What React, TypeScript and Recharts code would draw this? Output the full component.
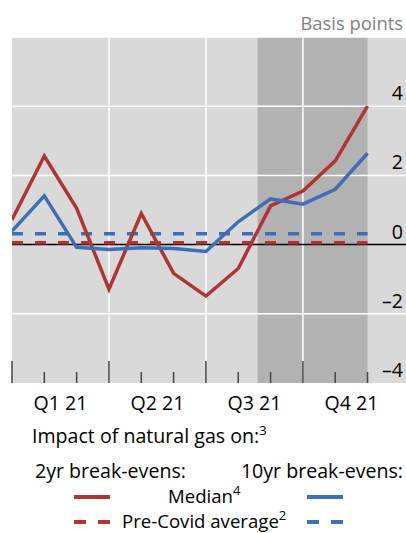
import React from 'react';
import { LineChart, Line, XAxis, YAxis, ReferenceArea, ReferenceLine } from 'recharts';

// Months of 2021 (x index 0..11)
const months = ['Jan 21', 'Feb 21', 'Mar 21', 'Apr 21', 'May 21', 'Jun 21', 'Jul 21', 'Aug 21', 'Sep 21', 'Oct 21', 'Nov 21', 'Dec 21'];
// Impact of natural gas, basis points
const median2yr = [0.72, 2.56, 1.05, -1.29, 0.9, -0.83, -1.49, -0.69, 1.12, 1.55, 2.42, 4.0];
const median10yr = [0.39, 1.41, -0.08, -0.14, -0.09, -0.11, -0.2, 0.66, 1.32, 1.17, 1.6, 2.64];
const preCovid2yr = [0.05, 0.05, 0.05, 0.05, 0.05, 0.05, 0.05, 0.05, 0.05, 0.05, 0.05, 0.05];
const preCovid10yr = [0.31, 0.31, 0.31, 0.31, 0.31, 0.31, 0.31, 0.31, 0.31, 0.31, 0.31, 0.31];
const quarterLabels = ['Q1 21', 'Q2 21', 'Q3 21', 'Q4 21'];
const quarterMid = [1.5, 4.5, 7.5, 10.5];
const yTicks = [-4, -2, 0, 2, 4];
const yGrid = [-2, 2, 4, 6];
const xGrid = [3, 6, 9];
const shaded = [7.6, 11.0];
const xDomain = [0, 12.19];
const yDomain = [-4, 6];

const data = months.map((m, i) => ({
  x: i,
  month: m,
  median2yr: median2yr[i],
  median10yr: median10yr[i],
  preCovid2yr: preCovid2yr[i],
  preCovid10yr: preCovid10yr[i],
}));

const RED = '#b03434';
const BLUE = '#3e6fb5';
const FONT = '"Open Sans", "Noto Sans", sans-serif';
const FS = 19.6;
const FS_LEG = 18.6;
const SUP = 13;

const XTick = (props: any) => {
  const { x, y, payload } = props;
  const v = payload.value as number;
  if (Number.isInteger(v)) {
    const len = v % 3 === 0 ? 22 : 11;
    return <line x1={x} x2={x} y1={y} y2={y - len} stroke="#444" strokeWidth={1.5} />;
  }
  const qi = quarterMid.indexOf(v);
  return (
    <text x={x} y={y + 27} textAnchor="middle" fontFamily={FONT} fontSize={FS} fill="#000">
      {quarterLabels[qi]}
    </text>
  );
};

const YTick = (props: any) => {
  const { x, y, payload } = props;
  const v = payload.value as number;
  const label = v < 0 ? '\u2013' + Math.abs(v) : String(v);
  return (
    <text x={x} y={y - 6} textAnchor="end" fontFamily={FONT} fontSize={FS} fill="#000">
      {label}
    </text>
  );
};

export default function App() {
  return (
    <div style={{ position: 'absolute', left: 0, top: 0, width: 406, height: 533, background: '#fff' }}>
      <LineChart
        width={406}
        height={533}
        data={data}
        margin={{ top: 37, right: 0, bottom: 120, left: 12 }}
      >
        <XAxis
          dataKey="x"
          type="number"
          domain={xDomain}
          allowDataOverflow
          ticks={[...months.map((_, i) => i), ...quarterMid]}
          interval={0}
          tick={<XTick />}
          tickLine={false}
          axisLine={false}
          tickSize={0}
          tickMargin={0}
          height={30}
        />
        <YAxis
          type="number"
          domain={yDomain}
          ticks={yTicks}
          orientation="right"
          mirror
          tick={<YTick />}
          tickLine={false}
          axisLine={false}
          tickSize={0}
          tickMargin={3}
          width={40}
          interval={0}
        />
        <ReferenceArea x1={xDomain[0]} x2={xDomain[1]} y1={yDomain[0]} y2={yDomain[1]} fill="#d9d9d9" fillOpacity={1} stroke="none" ifOverflow="hidden" />
        <ReferenceArea x1={shaded[0]} x2={shaded[1]} y1={yDomain[0]} y2={yDomain[1]} fill="#b2b2b2" fillOpacity={1} stroke="none" />
        {yGrid.map((v) => (
          <ReferenceLine key={'y' + v} y={v} stroke="#ffffff" strokeWidth={1.5} />
        ))}
        {xGrid.map((v) => (
          <ReferenceLine key={'x' + v} x={v} stroke="#ffffff" strokeWidth={1.5} />
        ))}
        <ReferenceLine y={0} stroke="#000" strokeWidth={1.5} />
        <Line dataKey="preCovid10yr" stroke={BLUE} strokeWidth={3.5} strokeDasharray="11 12" dot={false} isAnimationActive={false} />
        <Line dataKey="preCovid2yr" stroke={RED} strokeWidth={3.5} strokeDasharray="11 12" dot={false} isAnimationActive={false} />
        <Line dataKey="median2yr" stroke={RED} strokeWidth={3.5} dot={false} isAnimationActive={false} strokeLinejoin="miter" />
        <Line dataKey="median10yr" stroke={BLUE} strokeWidth={3.5} dot={false} isAnimationActive={false} strokeLinejoin="miter" />
      </LineChart>
      <svg width={406} height={533} style={{ position: 'absolute', left: 0, top: 0, pointerEvents: 'none' }}>
        <text x={403} y={30} textAnchor="end" fontFamily={FONT} fontSize={18.4} fill="#7f7f7f">Basis points</text>
        <text x={32} y={443} fontFamily={FONT} fontSize={FS} fill="#000">
          Impact of natural gas on:<tspan fontSize={SUP} dy={-8}>3</tspan>
        </text>
        <text x={35} y={478} fontFamily={FONT} fontSize={FS} fill="#000">2yr break-evens:</text>
        <text x={403} y={478} textAnchor="end" fontFamily={FONT} fontSize={FS} fill="#000">10yr break-evens:</text>
        <line x1={74} x2={110} y1={497} y2={497} stroke={RED} strokeWidth={4} />
        <text x={168} y={502.5} fontFamily={FONT} fontSize={FS_LEG} fill="#000">
          Median<tspan fontSize={SUP} dy={-8}>4</tspan>
        </text>
        <line x1={307} x2={343} y1={497} y2={497} stroke={BLUE} strokeWidth={4} />
        <line x1={74} x2={110} y1={522} y2={522} stroke={RED} strokeWidth={4} strokeDasharray="12 12" />
        <text x={122} y={528} fontFamily={FONT} fontSize={FS_LEG} fill="#000">
          Pre-Covid average<tspan fontSize={SUP} dy={-8}>2</tspan>
        </text>
        <line x1={307} x2={343} y1={522} y2={522} stroke={BLUE} strokeWidth={4} strokeDasharray="12 12" />
      </svg>
    </div>
  );
}
